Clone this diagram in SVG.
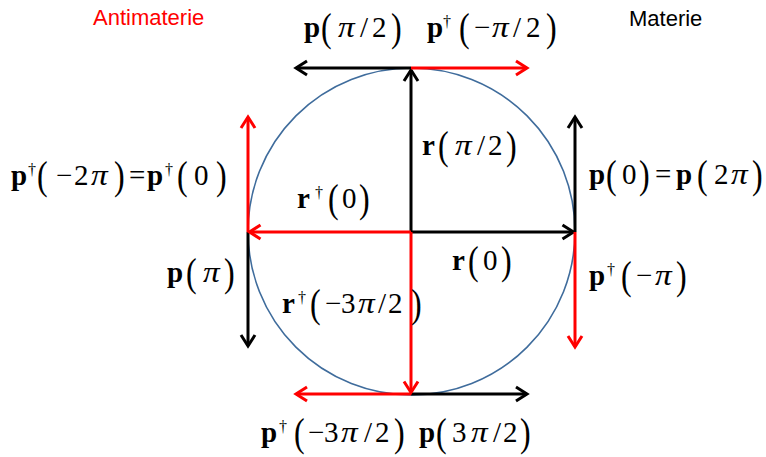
<svg xmlns="http://www.w3.org/2000/svg" width="766" height="457" viewBox="0 0 766 457">
<style>
text{font-family:"Liberation Serif","Times New Roman",serif;fill:#000}
.m{font-size:29px}
.b{font-weight:bold}
.i{font-style:italic;font-size:29px}
.pa{font-size:32px}
.dg{font-size:16px}
.cap{font-family:"Liberation Sans",Arial,sans-serif;font-size:22px}
.k{stroke:#000;stroke-width:3;fill:none}
.r{stroke:#FF0000;stroke-width:3;fill:none}
</style>
<defs>
<marker id="ak" markerUnits="userSpaceOnUse" orient="auto" overflow="visible" markerWidth="20" markerHeight="20" refX="0" refY="0">
<path d="M-11,-7 L0,0 L-11,7" fill="none" stroke="#000" stroke-width="3"/>
</marker>
<marker id="ar" markerUnits="userSpaceOnUse" orient="auto" overflow="visible" markerWidth="20" markerHeight="20" refX="0" refY="0">
<path d="M-11,-7 L0,0 L-11,7" fill="none" stroke="#FF0000" stroke-width="3"/>
</marker>
</defs>
<rect width="766" height="457" fill="#fff"/>
<g id="circle"><circle cx="411.5" cy="231.5" r="163.5" fill="none" stroke="#3F6C9C" stroke-width="1.6"/></g>
<g id="connectors">
<path class="k" d="M411,232 L411,70" marker-end="url(#ak)"/>
<path class="k" d="M411,232 L573.5,232" marker-end="url(#ak)"/>
<path class="k" d="M411,68 L296,68" marker-end="url(#ak)"/>
<path class="k" d="M575,232 L575,117" marker-end="url(#ak)"/>
<path class="k" d="M248,232 L248,346" marker-end="url(#ak)"/>
<path class="k" d="M411,394 L527,394" marker-end="url(#ak)"/>
<path class="r" d="M411,232 L249.5,232" marker-end="url(#ar)"/>
<path class="r" d="M411,232 L411,392.5" marker-end="url(#ar)"/>
<path class="r" d="M411,68 L527,68" marker-end="url(#ar)"/>
<path class="r" d="M575,232 L575,347" marker-end="url(#ar)"/>
<path class="r" d="M248,232 L248,117" marker-end="url(#ar)"/>
<path class="r" d="M411,394 L296,394" marker-end="url(#ar)"/>
</g>
<g id="antimaterie"><text class="cap" x="93" y="25" style="fill:#FF0000">Antimaterie</text></g>
<g id="materie"><text class="cap" x="629" y="26">Materie</text></g>

<g id="p-pi2">
<text class="m"><tspan class="b" x="304" y="37">p</tspan><tspan x="360" y="37">/</tspan><tspan x="372" y="37">2</tspan></text>
<text class="pa" transform="translate(321,41) scale(1,1.25)">(</text>
<text class="i" transform="translate(338,37) scale(1.15,1)">π</text>
<text class="pa" transform="translate(391,41) scale(1,1.25)">)</text>
</g>
<g id="pd-mpi2">
<text class="m"><tspan class="b" x="427" y="37">p</tspan><tspan class="dg" x="443" y="27">†</tspan><tspan x="474" y="37">−</tspan><tspan x="513" y="37">/</tspan><tspan x="526" y="37">2</tspan></text>
<text class="pa" transform="translate(459,41) scale(1,1.25)">(</text>
<text class="i" transform="translate(492,37) scale(1.15,1)">π</text>
<text class="pa" transform="translate(546,41) scale(1,1.25)">)</text>
</g>
<g id="pd-m2pi">
<text class="m"><tspan class="b" x="11" y="185">p</tspan><tspan class="dg" x="28" y="175">†</tspan><tspan x="56" y="185">−</tspan><tspan x="74" y="185">2</tspan><tspan x="129" y="185">=</tspan><tspan class="b" x="147" y="185">p</tspan><tspan class="dg" x="165" y="175">†</tspan><tspan x="194" y="185">0</tspan></text>
<text class="pa" transform="translate(37,189) scale(1,1.25)">(</text>
<text class="i" transform="translate(91,185) scale(1.15,1)">π</text>
<text class="pa" transform="translate(114,189) scale(1,1.25)">)</text>
<text class="pa" transform="translate(177,189) scale(1,1.25)">(</text>
<text class="pa" transform="translate(216,189) scale(1,1.25)">)</text>
</g>
<g id="r-pi2">
<text class="m"><tspan class="b" x="422" y="155">r</tspan><tspan x="477" y="155">/</tspan><tspan x="488" y="155">2</tspan></text>
<text class="pa" transform="translate(438,159) scale(1,1.25)">(</text>
<text class="i" transform="translate(455,155) scale(1.15,1)">π</text>
<text class="pa" transform="translate(506,159) scale(1,1.25)">)</text>
</g>
<g id="p0-p2pi">
<text class="m"><tspan class="b" x="589" y="184">p</tspan><tspan x="622" y="184">0</tspan><tspan x="655" y="184">=</tspan><tspan class="b" x="676" y="184">p</tspan><tspan x="714" y="184">2</tspan></text>
<text class="pa" transform="translate(606,188) scale(1,1.25)">(</text>
<text class="pa" transform="translate(639,188) scale(1,1.25)">)</text>
<text class="pa" transform="translate(697,188) scale(1,1.25)">(</text>
<text class="i" transform="translate(731,184) scale(1.15,1)">π</text>
<text class="pa" transform="translate(752,188) scale(1,1.25)">)</text>
</g>
<g id="rd-0">
<text class="m"><tspan class="b" x="297" y="208">r</tspan><tspan class="dg" x="315" y="198">†</tspan><tspan x="342" y="208">0</tspan></text>
<text class="pa" transform="translate(328,212) scale(1,1.25)">(</text>
<text class="pa" transform="translate(359,212) scale(1,1.25)">)</text>
</g>
<g id="r-0">
<text class="m"><tspan class="b" x="452" y="270">r</tspan><tspan x="483" y="270">0</tspan></text>
<text class="pa" transform="translate(468,274) scale(1,1.25)">(</text>
<text class="pa" transform="translate(501,274) scale(1,1.25)">)</text>
</g>
<g id="p-pi">
<text class="m"><tspan class="b" x="167" y="282">p</tspan></text>
<text class="pa" transform="translate(186,286) scale(1,1.25)">(</text>
<text class="i" transform="translate(203,282) scale(1.15,1)">π</text>
<text class="pa" transform="translate(224,286) scale(1,1.25)">)</text>
</g>
<g id="pd-mpi">
<text class="m"><tspan class="b" x="589" y="285">p</tspan><tspan class="dg" x="607" y="275">†</tspan><tspan x="636" y="285">−</tspan></text>
<text class="pa" transform="translate(621,289) scale(1,1.25)">(</text>
<text class="i" transform="translate(655,285) scale(1.15,1)">π</text>
<text class="pa" transform="translate(676,289) scale(1,1.25)">)</text>
</g>
<g id="rd-m3pi2">
<text class="m"><tspan class="b" x="282" y="313">r</tspan><tspan class="dg" x="298" y="303">†</tspan><tspan x="325" y="313">−</tspan><tspan x="341" y="313">3</tspan><tspan x="378" y="313">/</tspan><tspan x="388" y="313">2</tspan></text>
<text class="pa" transform="translate(310,317) scale(1,1.25)">(</text>
<text class="i" transform="translate(358,313) scale(1.15,1)">π</text>
<text class="pa" transform="translate(411,317) scale(1,1.25)">)</text>
</g>
<g id="pd-m3pi2">
<text class="m"><tspan class="b" x="261" y="442">p</tspan><tspan class="dg" x="279" y="432">†</tspan><tspan x="308" y="442">−</tspan><tspan x="324" y="442">3</tspan><tspan x="364" y="442">/</tspan><tspan x="375" y="442">2</tspan></text>
<text class="pa" transform="translate(294,446) scale(1,1.25)">(</text>
<text class="i" transform="translate(341,442) scale(1.15,1)">π</text>
<text class="pa" transform="translate(394,446) scale(1,1.25)">)</text>
</g>
<g id="p-3pi2">
<text class="m"><tspan class="b" x="419" y="442">p</tspan><tspan x="452" y="442">3</tspan><tspan x="493" y="442">/</tspan><tspan x="503" y="442">2</tspan></text>
<text class="pa" transform="translate(436,446) scale(1,1.25)">(</text>
<text class="i" transform="translate(471,442) scale(1.15,1)">π</text>
<text class="pa" transform="translate(520,446) scale(1,1.25)">)</text>
</g>
</svg>
